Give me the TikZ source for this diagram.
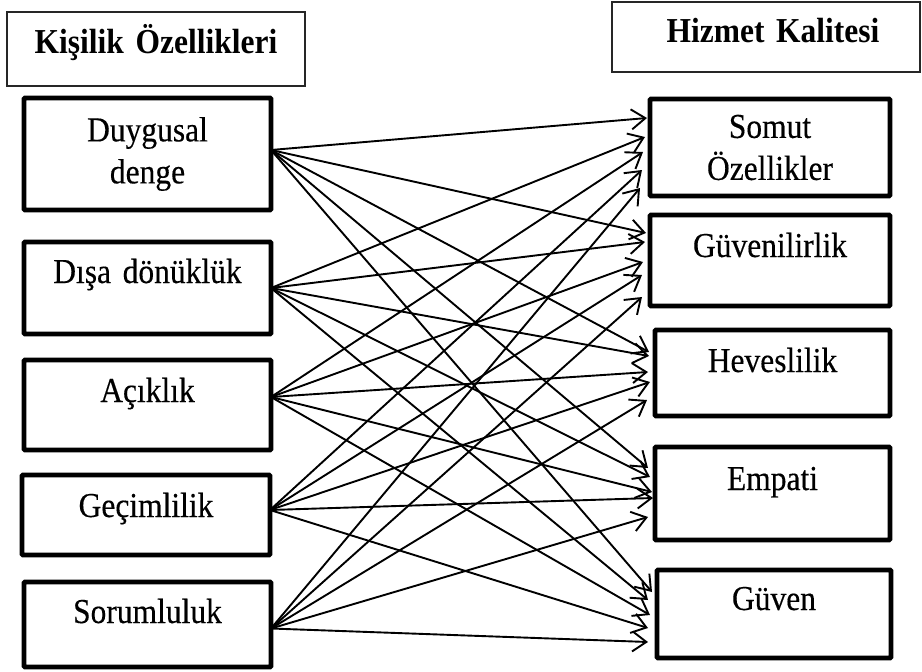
\documentclass[tikz,border=0pt]{standalone}
\usepackage{fontspec}
\setmainfont{Liberation Serif}[FakeStretch=0.9, UprightFeatures={FakeBold=0.3}]
\usetikzlibrary{arrows.meta,calc}
\newcommand{\boxfont}{\fontsize{35}{42}\selectfont\spaceskip=6.5pt\relax}
\begin{document}
\begin{tikzpicture}[x=1pt,y=-1pt,
  every node/.style={inner sep=0pt, outer sep=0pt},
  box/.style={draw, line width=4.8pt, rounded corners=1pt, align=center,
    anchor=north west, font=\boxfont},
  hdr/.style={draw=black!85, line width=1.2pt, align=center,
    anchor=north west, font=\bfseries\boxfont},
  conn/.style={line width=1.9pt,
    -{Straight Barb[length=14pt,width=20pt,line width=1.9pt]}}]
\useasboundingbox (0,0) rectangle (922,672);

% column headers
\node[hdr, text width=298pt, text height=41pt, text depth=33pt] (hl) at (7,12) {Kişilik Özellikleri};
\node[hdr, text width=308pt, text height=40pt, text depth=30pt] (hr) at (612,2) {\hspace*{14pt}Hizmet Kalitesi};

% personality traits
\node[box, text width=247pt, minimum height=112pt, anchor=center] (dd) at (147.5,154) {Duygusal\\denge};
\node[box, text width=247pt, text height=41pt, text depth=51pt] (dis) at (24,242) {Dışa dönüklük};
\node[box, text width=247pt, text height=42pt, text depth=48pt] (aci) at (24,360) {Açıklık};
\node[box, text width=248pt, text height=42pt, text depth=38pt] (gec) at (22,475) {Geçimlilik};
\node[box, text width=247pt, text height=41pt, text depth=44pt] (sor) at (24,582) {Sorumluluk};

% service quality dimensions
\node[box, text width=240pt, minimum height=97pt, anchor=center] (som) at (770,147.5) {Somut\\Özellikler};
\node[box, text width=240pt, text height=42pt, text depth=49pt] (guv) at (650,215) {Güvenilirlik};
\node[box, text width=235pt, text height=42pt, text depth=44pt] (hev) at (655,330) {Heveslilik};
\node[box, text width=235pt, text height=43pt, text depth=50pt] (emp) at (655,447) {Empati};
\node[box, text width=234pt, text height=40pt, text depth=48pt] (gvn) at (657,570) {Güven};

% every trait points to every dimension
\foreach \s/\sy/\t/\ex/\ey in {
  dd/-4/som/-3/19,  dis/0/som/-5/38,  aci/-8/som/-7/53,  gec/-5/som/-8/71,  sor/4/som/-10/89,
  dd/-4/guv/-4/18,  dis/0/guv/-5/27,  aci/-8/guv/-7/47,  gec/-5/guv/-8/60,  sor/4/guv/-8/82,
  dd/-4/hev/-6/22,  dis/0/hev/-6/26,  aci/-8/hev/-7/42,  gec/-5/hev/-5/52,  sor/4/hev/-8/70,
  dd/-4/emp/-7/21,  dis/0/emp/-5/30,  aci/-8/emp/-3/45,  gec/-5/emp/-2/51,  sor/4/emp/-7/70,
  dd/-4/gvn/-5/22,  dis/0/gvn/-9/30,  aci/-8/gvn/-7/45,  gec/-5/gvn/-9/58,  sor/4/gvn/-9/72}
  \draw[conn] ($(\s.east)+(0,\sy)$) -- ($(\t.north west)+(\ex,\ey)$);
\end{tikzpicture}
\end{document}
